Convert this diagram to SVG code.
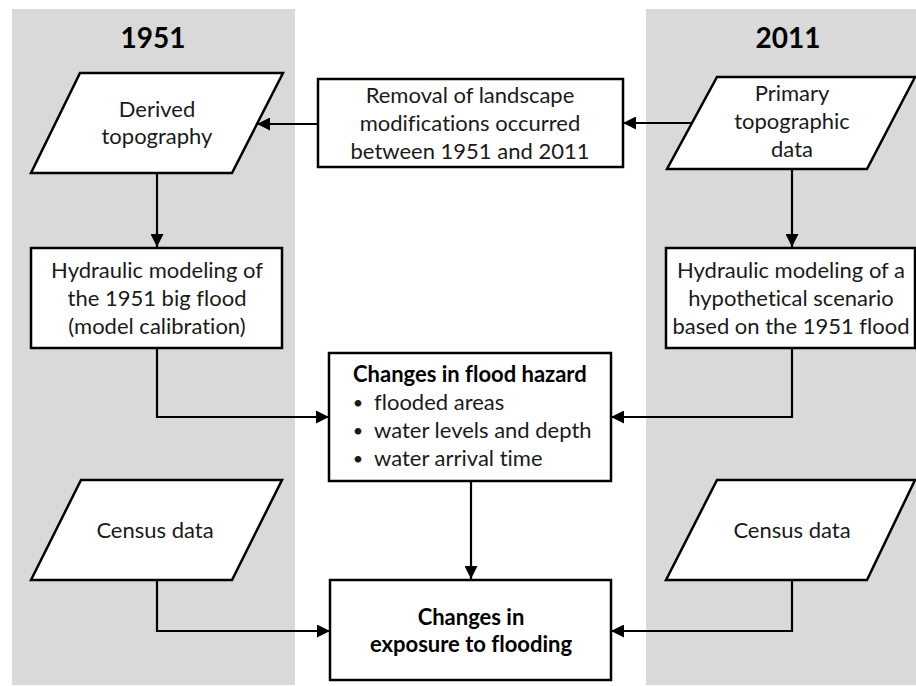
<svg xmlns="http://www.w3.org/2000/svg" width="916" height="686" viewBox="0 0 916 686">
<defs>
<style>
.panel{fill:#d9d9d9;stroke:none}
.node{fill:#fff;stroke:#000;stroke-width:2.5}
.t{font-family:Lato,"Liberation Sans",sans-serif;font-size:22px;fill:#1a1a1a;text-anchor:middle;font-variant-ligatures:none}
.b{font-weight:bold;fill:#000}
.hd{font-family:Lato,"Liberation Sans",sans-serif;font-size:28px;font-weight:bold;fill:#000;text-anchor:middle}
.l{text-anchor:start}
.bul{font-size:18px}
.c{fill:none;stroke:#000;stroke-width:2.2}
</style>
<marker id="ah" viewBox="0 0 13 13" refX="13" refY="6.5" markerWidth="13" markerHeight="13" markerUnits="userSpaceOnUse" orient="auto">
<path d="M0,0 L13,6.5 L0,13 Z" fill="#000"/>
</marker>
</defs>
<rect width="916" height="686" fill="#fff"/>
<rect class="panel" x="12" y="9" width="283" height="676"/>
<rect class="panel" x="646" y="9" width="270" height="676"/>
<text class="hd" x="153" y="48">1951</text>
<text class="hd" x="788" y="48">2011</text>
<g id="connectors">
<path class="c" d="M318,124 L257,124" marker-end="url(#ah)"/>
<path class="c" d="M691,123 L623,123" marker-end="url(#ah)"/>
<path class="c" d="M157,173 L157,247" marker-end="url(#ah)"/>
<path class="c" d="M792,169 L792,247" marker-end="url(#ah)"/>
<path class="c" d="M157,348 L157,417 L329,417" marker-end="url(#ah)"/>
<path class="c" d="M792,348 L792,417 L611,417" marker-end="url(#ah)"/>
<path class="c" d="M471,481 L471,579" marker-end="url(#ah)"/>
<path class="c" d="M157,580 L157,631 L330,631" marker-end="url(#ah)"/>
<path class="c" d="M792,580 L792,631 L611,631" marker-end="url(#ah)"/>
</g>
<g id="derived">
<polygon class="node" points="80,73 283,73 232,173 31,173"/>
<text class="t" x="157" y="117">Derived</text>
<text class="t" x="157" y="144">topography</text>
</g>
<g id="removal">
<rect class="node" x="318" y="79" width="305" height="88"/>
<text class="t" x="470" y="103">Removal of landscape</text>
<text class="t" x="470" y="131">modifications occurred</text>
<text class="t" x="470" y="159">between 1951 and 2011</text>
</g>
<g id="primary">
<polygon class="node" points="717,77 915,77 867,169 667,169"/>
<text class="t" x="792" y="101">Primary</text>
<text class="t" x="792" y="129">topographic</text>
<text class="t" x="792" y="157">data</text>
</g>
<g id="hydraulic1951">
<rect class="node" x="31" y="248" width="251" height="100"/>
<text class="t" x="157" y="278">Hydraulic modeling of</text>
<text class="t" x="157" y="306">the 1951 big flood</text>
<text class="t" x="157" y="334">(model calibration)</text>
</g>
<g id="hydraulic2011">
<rect class="node" x="666" y="248" width="249" height="100"/>
<text class="t" x="791" y="278">Hydraulic modeling of a</text>
<text class="t" x="791" y="306">hypothetical scenario</text>
<text class="t" x="791" y="334">based on the 1951 flood</text>
</g>
<g id="hazard">
<rect class="node" x="329" y="353" width="282" height="128"/>
<text class="t b l" x="353" y="382">Changes in flood hazard</text>
<text class="t bul" x="358" y="409">•</text>
<text class="t l" x="374" y="410">flooded areas</text>
<text class="t bul" x="358" y="437">•</text>
<text class="t l" x="374" y="438">water levels and depth</text>
<text class="t bul" x="358" y="465">•</text>
<text class="t l" x="374" y="466">water arrival time</text>
</g>
<g id="census1951">
<polygon class="node" points="81,480 282,480 232,580 31,580"/>
<text class="t" x="155" y="538">Census data</text>
</g>
<g id="census2011">
<polygon class="node" points="717,480 915,480 867,580 666,580"/>
<text class="t" x="792" y="538">Census data</text>
</g>
<g id="exposure">
<rect class="node" x="330" y="580" width="281" height="100"/>
<text class="t b" x="471" y="625">Changes in</text>
<text class="t b" x="471" y="652">exposure to flooding</text>
</g>
</svg>
